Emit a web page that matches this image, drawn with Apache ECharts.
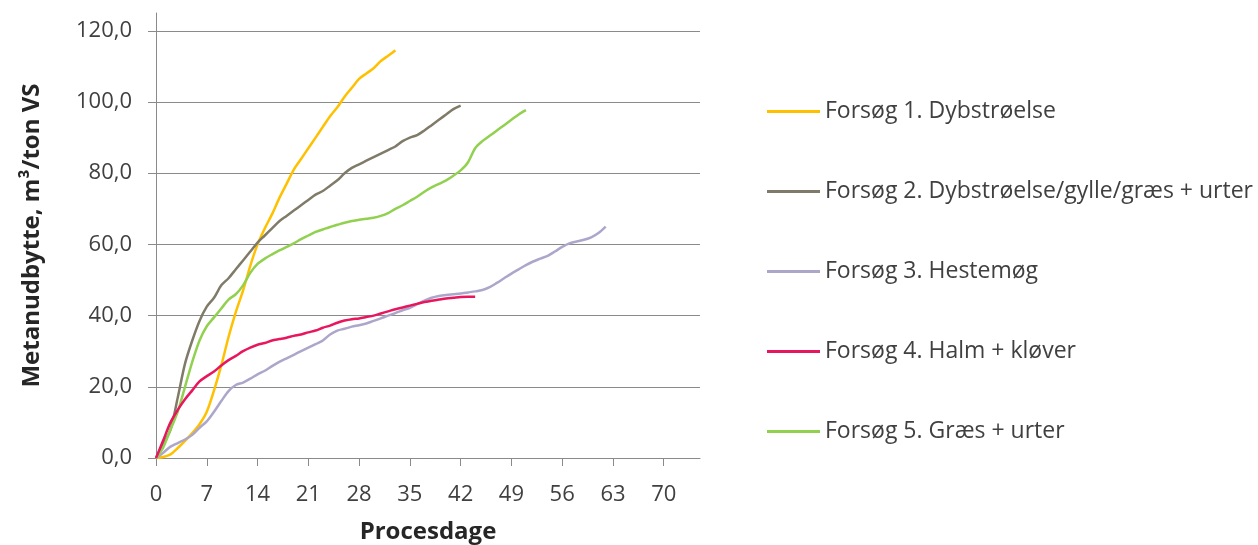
<!DOCTYPE html>
<html>
<head>
<meta charset="utf-8">
<script src="https://cdn.jsdelivr.net/npm/echarts@6/dist/echarts.min.js"></script>
<style>
html,body{margin:0;padding:0;background:#fff;}
#chart{width:1258px;height:545px;}
</style>
</head>
<body>
<div id="chart"></div>
<script>
const days = [0,1,2,3,4,5,6,7,8,9,10,11,12,13,14,15,16,17,18,19,20,21,22,23,24,25,26,27,28,29,30,31,32,33,34,35,36,37,38,39,40,41,42,43,44,45,46,47,48,49,50,51,52,53,54,55,56,57,58,59,60,61,62];

const seriesNames = [
  "Forsøg 1. Dybstrøelse",
  "Forsøg 2. Dybstrøelse/gylle/græs + urter",
  "Forsøg 3. Hestemøg",
  "Forsøg 4. Halm + kløver",
  "Forsøg 5. Græs + urter"
];

const forsog1 = [0,0.3,1,2.8,4.8,7,9.5,13,19,26,34,41,47,54,60,64.5,68.5,73,77,81,84,87,90,93,96,98.5,101.5,104,106.5,108,109.5,111.5,113,114.5];
const forsog2 = [0,4,8,17,26.5,33,38.5,42.5,45,48.5,50.5,53,55.5,58,60.5,62.5,64.5,66.5,68,69.5,71,72.5,74,75,76.5,78,80,81.5,82.5,83.5,84.5,85.5,86.5,87.5,89,90,90.7,92,93.5,95,96.5,98,99];
const forsog3 = [0,1.5,3.2,4.2,5.2,6.5,8.5,10.3,13,16,18.8,20.5,21.2,22.3,23.5,24.5,25.8,27,28,29,30,31,32,33,34.7,35.8,36.3,36.9,37.3,37.8,38.5,39.2,40,40.7,41.5,42.2,43.2,44.2,45,45.5,45.8,46,46.2,46.5,46.8,47.2,48,49.2,50.5,51.8,53,54.2,55.2,56,56.8,58,59.3,60.3,60.8,61.3,62,63.2,65];
const forsog4 = [0,5,10,13.5,16.5,19,21.5,23,24.3,26,27.5,28.7,30,31,31.8,32.3,33,33.4,33.8,34.3,34.7,35.3,35.8,36.6,37.2,38,38.6,39,39.2,39.6,40,40.6,41.2,41.8,42.3,42.8,43.3,43.8,44.2,44.5,44.8,45,45.2,45.3,45.3];
const forsog5 = [0,3,8,13,20,27,33,37,39.5,42,44.5,46,48.5,52,54.5,56,57.2,58.3,59.3,60.3,61.5,62.5,63.5,64.2,64.9,65.5,66.1,66.6,66.9,67.2,67.5,68,68.8,70,71,72.2,73.4,74.8,76,77,78,79.3,80.8,83,87,89,90.5,92,93.5,95,96.5,97.7];

const xTicks = [0,7,14,21,28,35,42,49,56,63,70];
const yTicks = [0,20,40,60,80,100,120];

const colors = ["#FFC000","#807B68","#ADA6CB","#E8175D","#92D050"];

const allValues = [forsog1, forsog2, forsog3, forsog4, forsog5];
function pairs(vals){ return vals.map((v,i)=>[days[i], v]); }

const chart = echarts.init(document.getElementById('chart'), null, {renderer:'canvas'});
const textColor = '#404040';
const font = 'Open Sans';

chart.setOption({
  animation:false,
  backgroundColor:'#ffffff',
  color: colors,
  grid:{left:156, right:558, top:13, bottom:87, containLabel:false, outerBoundsMode:'none'},
  legend:{
    orient:'vertical',
    left:767, top:100,
    padding:0,
    icon:'rect',
    itemWidth:53, itemHeight:3,
    itemGap:57,
    textStyle:{fontFamily:font, fontSize:23, color:textColor},
    data: seriesNames
  },
  xAxis:{
    type:'value', min:0, max:75, interval:7,
    name:'Procesdage', nameLocation:'middle', nameGap:62,
    nameTextStyle:{fontFamily:font, fontSize:24, fontWeight:'bold', color:'#262626'},
    axisLine:{show:true, onZero:false, lineStyle:{color:'#8a8a8a', width:1}},
    axisTick:{show:true, length:8, lineStyle:{color:'#8a8a8a'}, customValues:xTicks},
    axisLabel:{fontFamily:font, fontSize:22, color:textColor, margin:26, customValues:xTicks},
    splitLine:{show:false}
  },
  yAxis:{
    type:'value', min:0, max:125, interval:20,
    name:'Metanudbytte, m³/ton VS', nameLocation:'middle', nameGap:112,
    nameTextStyle:{fontFamily:font, fontSize:24, fontWeight:'bold', color:'#262626'},
    axisLine:{show:true, lineStyle:{color:'#8a8a8a', width:1}},
    axisTick:{show:true, length:8, lineStyle:{color:'#8a8a8a'}, customValues:yTicks},
    axisLabel:{fontFamily:font, fontSize:22, color:textColor, margin:24, customValues:yTicks,
      formatter:(v)=>v.toFixed(1).replace('.', ',')},
    splitLine:{show:true, lineStyle:{color:'#8a8a8a', width:1}}
  },
  series: seriesNames.map((n,i)=>({
    name:n, type:'line', data:pairs(allValues[i]),
    symbol:'none', smooth:0.3,
    lineStyle:{width:2.5, color:colors[i]},
    itemStyle:{color:colors[i]},
    z: i===3 ? 5 : 2
  }))
});
</script>
</body>
</html>
